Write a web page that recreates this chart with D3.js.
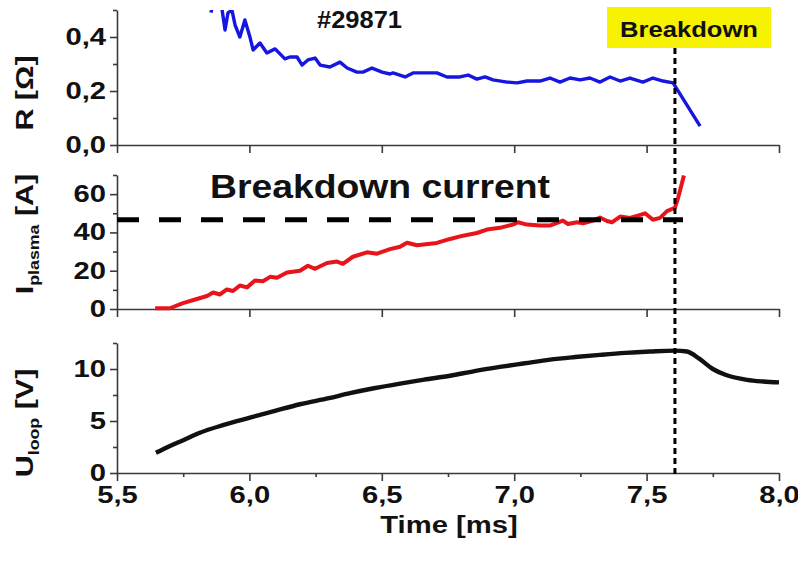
<!DOCTYPE html>
<html><head><meta charset="utf-8">
<script src="https://cdn.jsdelivr.net/npm/d3@7"></script>
<style>
body{margin:0;background:#fff}
svg text{font-family:"Liberation Sans",Arial,sans-serif;font-weight:bold;fill:#111}
</style>
</head><body>
<svg id="chart" width="798" height="563"></svg>
<script>
// ---- data ----
const rTime = [5.855,5.87,5.897,5.908,5.919,5.934,5.946,5.964,5.983,6.002,6.014,6.040,6.066,6.097,6.134,6.153,6.180,6.199,6.221,6.248,6.267,6.304,6.342,6.369,6.406,6.429,6.463,6.501,6.531,6.542,6.588,6.618,6.671,6.708,6.746,6.795,6.826,6.859,6.890,6.920,6.973,7.011,7.048,7.097,7.135,7.173,7.211,7.249,7.286,7.324,7.362,7.400,7.437,7.486,7.524,7.562,7.600,7.702];
const rValues = [0.49,0.56,0.50,0.426,0.489,0.50,0.444,0.400,0.463,0.400,0.352,0.378,0.341,0.356,0.319,0.326,0.326,0.296,0.315,0.322,0.296,0.289,0.307,0.285,0.270,0.270,0.285,0.270,0.263,0.267,0.252,0.267,0.267,0.267,0.252,0.252,0.259,0.244,0.252,0.241,0.233,0.230,0.237,0.237,0.248,0.233,0.248,0.241,0.248,0.233,0.252,0.237,0.248,0.233,0.248,0.237,0.230,0.070];

const iTime = [5.644,5.70,5.749,5.802,5.84,5.863,5.889,5.915,5.938,5.964,5.991,6.021,6.051,6.078,6.104,6.142,6.191,6.221,6.248,6.293,6.331,6.353,6.391,6.444,6.482,6.531,6.569,6.595,6.618,6.633,6.708,6.758,6.807,6.859,6.897,6.946,6.995,7.014,7.048,7.097,7.135,7.162,7.184,7.203,7.237,7.26,7.298,7.324,7.350,7.369,7.40,7.437,7.467,7.494,7.524,7.551,7.577,7.607,7.619,7.641];
const iValues = [0.4,0.4,3.1,5.2,6.8,8.6,7.6,10.2,9.4,12.3,11.3,14.9,14.5,16.8,16.3,19.1,20.0,22.6,21.0,24.0,24.8,23.6,27.3,29.6,28.9,31.3,32.5,34.6,33.8,33.3,34.5,36.6,38.3,39.7,41.5,42.4,44.1,45.3,44.1,43.6,43.6,45.0,46.2,44.4,45.3,44.8,46.2,47.8,46.0,45.3,48.3,47.6,48.8,50.0,46.6,47.6,51.1,52.9,58.1,69.8];

const uTime = [5.647,5.70,5.75,5.813,5.9,6.002,6.1,6.191,6.3,6.38,6.47,6.569,6.66,6.758,6.85,6.946,7.04,7.135,7.23,7.324,7.42,7.513,7.607,7.652,7.70,7.75,7.80,7.879,7.94,8.0];
const uValues = [1.94,2.6,3.15,3.87,4.6,5.32,6.0,6.61,7.2,7.68,8.15,8.6,8.98,9.35,9.8,10.2,10.55,10.9,11.15,11.36,11.55,11.68,11.77,11.68,10.97,10.0,9.42,8.96,8.8,8.71];

const xTicks = [5.5,6.0,6.5,7.0,7.5,8.0];
const xMinorTicks = [5.75,6.25,6.75,7.25,7.75];
const rTicks = [0,0.2,0.4], rMinor = [0.1,0.3,0.5];
const iTicks = [0,20,40,60], iMinor = [10,30,50,70];
const uTicks = [0,5,10], uMinor = [2.5,7.5,12.5];

const breakdownTime = 7.607;
const breakdownCurrent = 46.6;
const shotLabel = "#29871";

// ---- layout ----
const svg = d3.select("#chart");
const X0 = 117, X1 = 779;
const STRETCH = 1.27;
const x = d3.scaleLinear().domain([5.5, 8.0]).range([X0, X1]);
const yR = d3.scaleLinear().domain([0, 0.5]).range([145, 10]);
const yI = d3.scaleLinear().domain([0, 70]).range([309, 175]);
const yU = d3.scaleLinear().domain([0, 12.5]).range([473, 343]);
const fmt = v => d3.format(".1f")(v).replace(".", ",");
const axisColor = "#3a3a3a";

function stretch(sel){
  sel.each(function(){
    const w = this.getComputedTextLength();
    if (w > 0) d3.select(this).attr("textLength", w*STRETCH).attr("lengthAdjust","spacingAndGlyphs");
  });
}

svg.append("defs").append("clipPath").attr("id","clipR")
  .append("rect").attr("x",X0).attr("y",yR.range()[1]).attr("width",X1-X0).attr("height",yR.range()[0]-yR.range()[1]);

function styleAxis(g){
  g.select(".domain").attr("stroke",axisColor).attr("stroke-width",1.6);
  g.selectAll(".tick line").attr("stroke",axisColor).attr("stroke-width",1.6);
  g.selectAll(".tick text").attr("font-size",23).attr("fill","#111")
   .style("font-family","'Liberation Sans',Arial,sans-serif").style("font-weight","bold");
  stretch(g.selectAll(".tick text"));
}

function panel(y, major, minor, tf, labelX){
  const ga = svg.append("g").attr("transform",`translate(${X0},0)`)
    .call(d3.axisLeft(y).tickValues(major).tickSize(7).tickSizeOuter(0).tickPadding(4).tickFormat(tf));
  styleAxis(ga);
  const gm = svg.append("g").attr("transform",`translate(${X0},0)`)
    .call(d3.axisLeft(y).tickValues(minor).tickSize(4).tickSizeOuter(0).tickFormat(""));
  styleAxis(gm);
  gm.select(".domain").remove();
  const gx = svg.append("g").attr("transform",`translate(0,${y(0)})`)
    .call(d3.axisBottom(x).tickValues(xTicks).tickSize(8).tickSizeOuter(0).tickPadding(6)
      .tickFormat(labelX ? fmt : ""));
  styleAxis(gx);
  if(labelX){
    const gxm = svg.append("g").attr("transform",`translate(0,${y(0)})`)
      .call(d3.axisBottom(x).tickValues(xMinorTicks).tickSize(4).tickSizeOuter(0).tickFormat(""));
    styleAxis(gxm);
    gxm.select(".domain").remove();
  }
}

panel(yR, rTicks, rMinor, fmt, false);
panel(yI, iTicks, iMinor, d3.format("d"), false);
panel(yU, uTicks, uMinor, d3.format("d"), true);

// ---- lines ----
const lineOf = (ys, t, v) => d3.line().x((d,i)=>x(t[i])).y((d,i)=>ys(v[i]))(t);

svg.append("path").attr("d", lineOf(yR, rTime, rValues)).attr("clip-path","url(#clipR)")
  .attr("fill","none").attr("stroke","#1616e0").attr("stroke-width",3.4).attr("stroke-linejoin","round");
svg.append("path").attr("d", lineOf(yI, iTime, iValues))
  .attr("fill","none").attr("stroke","#e8141c").attr("stroke-width",4).attr("stroke-linejoin","round");
svg.append("path").attr("d", d3.line().curve(d3.curveMonotoneX).x((d,i)=>x(uTime[i])).y((d,i)=>yU(uValues[i]))(uTime))
  .attr("fill","none").attr("stroke","#111").attr("stroke-width",4.4).attr("stroke-linejoin","round");

// ---- breakdown current dashed line ----
svg.append("line").attr("x1",X0).attr("x2",683)
  .attr("y1",yI(breakdownCurrent)).attr("y2",yI(breakdownCurrent))
  .attr("stroke","#000").attr("stroke-width",5).attr("stroke-dasharray","22,20");
svg.append("text").attr("x",210).attr("y",198).attr("font-size",33)
  .attr("textLength",340).attr("lengthAdjust","spacingAndGlyphs").text("Breakdown current");

// ---- breakdown vertical line and label ----
svg.append("line").attr("x1",x(breakdownTime)).attr("x2",x(breakdownTime))
  .attr("y1",48).attr("y2",475)
  .attr("stroke","#000").attr("stroke-width",3).attr("stroke-dasharray","6,4");
svg.append("rect").attr("x",607).attr("y",7).attr("width",164).attr("height",41).attr("fill","#f7f200");
svg.append("text").attr("x",689).attr("y",37).attr("text-anchor","middle").attr("font-size",22)
  .attr("textLength",138).attr("lengthAdjust","spacingAndGlyphs").text("Breakdown");

svg.append("text").attr("x",317).attr("y",28).attr("font-size",23)
  .attr("textLength",85).attr("lengthAdjust","spacingAndGlyphs").text(shotLabel);

// ---- axis titles ----
function yTitle(cx, cy, main, sub, unit){
  const g = svg.append("g").attr("transform",`translate(${cx},${cy}) rotate(-90) scale(${STRETCH},1)`);
  const t = g.append("text").attr("text-anchor","middle").attr("font-size",24);
  t.append("tspan").text(main);
  if(sub){ t.append("tspan").attr("font-size",14).attr("dy",6).text(sub);
           t.append("tspan").attr("dy",-6).text(" " + unit); }
  else t.append("tspan").text(" " + unit);
}
yTitle(33, 93, "R", null, "[Ω]");
yTitle(33, 234, "I", "plasma", "[A]");
yTitle(33, 423, "U", "loop", "[V]");

const tt = svg.append("text").attr("x",449).attr("y",533).attr("text-anchor","middle").attr("font-size",23)
  .text("Time [ms]");
stretch(tt);
</script>
</body></html>
